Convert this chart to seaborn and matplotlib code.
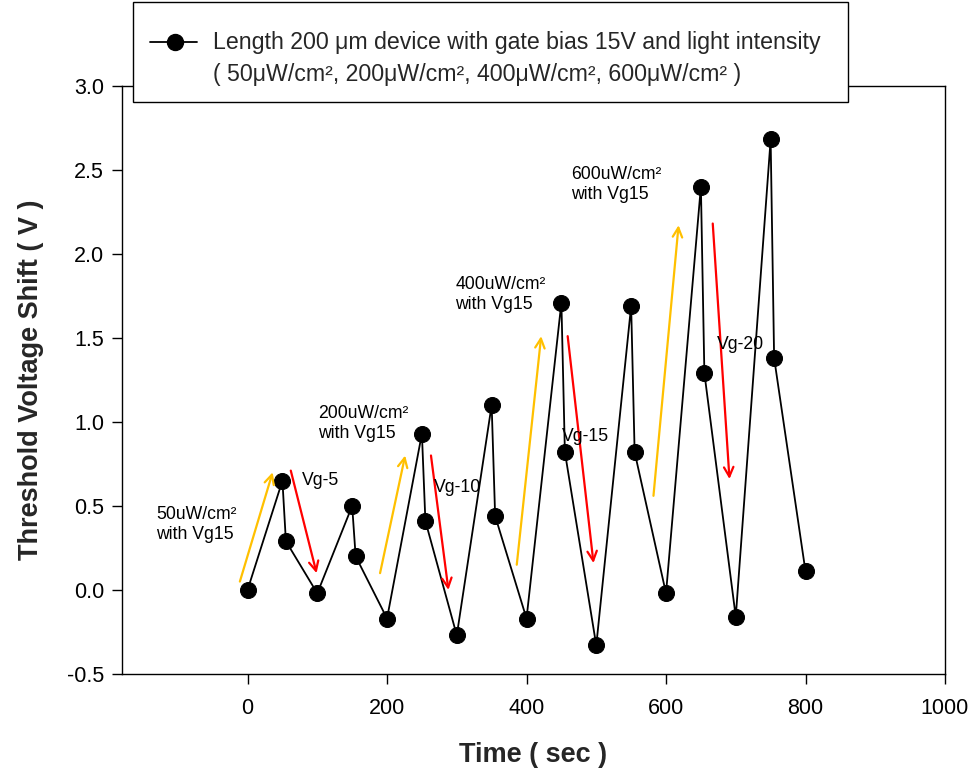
import matplotlib
matplotlib.use("Agg")
import matplotlib.pyplot as plt
from matplotlib.patches import Rectangle
from matplotlib.lines import Line2D
import seaborn as sns
import pandas as pd

# Threshold voltage shift measured over time
time_s = [0, 50, 55, 100, 150, 155, 200, 250, 255, 300, 350, 355, 400,
          450, 455, 500, 550, 555, 600, 650, 655, 700, 750, 755, 800]
shift_v = [0.00, 0.65, 0.29, -0.02, 0.50, 0.20, -0.17, 0.93, 0.41, -0.27,
           1.10, 0.44, -0.17, 1.71, 0.82, -0.33, 1.69, 0.82, -0.02, 2.40,
           1.29, -0.16, 2.68, 1.38, 0.11]

x_ticks = [0, 200, 400, 600, 800, 1000]
y_ticks = [-0.5, 0.0, 0.5, 1.0, 1.5, 2.0, 2.5, 3.0]

# Illumination (up) and recovery (down) arrows: (x0, y0, x1, y1)
light_arrows = [(-11, 0.05, 36, 0.70), (190, 0.10, 226, 0.80),
                (386, 0.15, 421, 1.51), (582, 0.56, 618, 2.17)]
recover_arrows = [(62, 0.71, 99, 0.10), (263, 0.80, 288, 0.00),
                  (459, 1.51, 496, 0.16), (667, 2.18, 691, 0.66)]

# Text notes: (x, y, text)
notes = [(-131, 0.39, "50uW/cm\u00b2\nwith Vg15"),
         (78, 0.65, "Vg-5"),
         (101, 0.99, "200uW/cm\u00b2\nwith Vg15"),
         (267, 0.61, "Vg-10"),
         (298, 1.76, "400uW/cm\u00b2\nwith Vg15"),
         (451, 0.91, "Vg-15"),
         (464, 2.41, "600uW/cm\u00b2\nwith Vg15"),
         (673, 1.46, "Vg-20")]

legend_line1 = "Length 200 \u03bcm device with gate bias 15V and light intensity"
legend_line2 = ("( 50\u03bcW/cm\u00b2, 200\u03bcW/cm\u00b2, 400\u03bcW/cm\u00b2, "
                "600\u03bcW/cm\u00b2 )")

df = pd.DataFrame({"Time": time_s, "Shift": shift_v})

sns.set_style("white")
plt.rcParams["font.family"] = ["Liberation Sans", "DejaVu Sans"]
plt.rcParams["axes.unicode_minus"] = False

fig = plt.figure(figsize=(9.73, 7.76), dpi=100)
ax = fig.add_axes([122 / 973, 1 - 674 / 776, (945 - 122) / 973, (674 - 85.7) / 776])

sns.lineplot(data=df, x="Time", y="Shift", ax=ax, color="black", linewidth=1.3,
             marker="o", markersize=11.5, markeredgecolor="black",
             markerfacecolor="black", estimator=None, sort=False)

ax.set_xlim(-180, 1000)
ax.set_ylim(-0.5, 3.0)
ax.set_xticks(x_ticks)
ax.set_yticks(y_ticks)
ax.set_yticklabels([f"{v:.1f}" for v in y_ticks])
ax.tick_params(axis="both", which="major", direction="out", length=7, width=1,
               labelsize=15.5, color="black", labelcolor="black")
ax.tick_params(axis="x", pad=10)
ax.tick_params(axis="y", pad=6)
ax.tick_params(top=False, right=False, bottom=True, left=True)
for side in ax.spines.values():
    side.set_color("black")
    side.set_linewidth(1.0)

ax.set_xlabel("Time ( sec )", fontsize=19.5, fontweight="bold", labelpad=17)
ax.set_ylabel("Threshold Voltage Shift ( V )", fontsize=19.5, fontweight="bold",
              labelpad=16)

for x0, y0, x1, y1 in light_arrows:
    ax.annotate("", xy=(x1, y1), xytext=(x0, y0),
                arrowprops=dict(arrowstyle="->", color="#FFC000", lw=1.6,
                                mutation_scale=17, shrinkA=0, shrinkB=0))
for x0, y0, x1, y1 in recover_arrows:
    ax.annotate("", xy=(x1, y1), xytext=(x0, y0),
                arrowprops=dict(arrowstyle="->", color="#FF0000", lw=1.6,
                                mutation_scale=17, shrinkA=0, shrinkB=0))

for x, y, s in notes:
    ax.text(x, y, s, fontsize=12.7, ha="left", va="center", color="black",
            linespacing=1.25)

# Legend box drawn in figure space, partly above the plotting area
box = Rectangle((133 / 973, 1 - 102 / 776), (848 - 133) / 973, (102 - 2) / 776,
                transform=fig.transFigure, facecolor="white", edgecolor="black",
                linewidth=1.0, zorder=10)
fig.add_artist(box)
handle = Line2D([150 / 973, 197 / 973], [1 - 42 / 776, 1 - 42 / 776],
                transform=fig.transFigure, color="black", linewidth=1.3,
                zorder=11)
fig.add_artist(handle)
dot = Line2D([175 / 973], [1 - 42 / 776], transform=fig.transFigure,
             marker="o", markersize=11.5, color="black", zorder=12)
fig.add_artist(dot)
fig.text(213 / 973, 1 - 42 / 776, legend_line1, fontsize=16.7, ha="left",
         va="center", zorder=12)
fig.text(213 / 973, 1 - 75 / 776, legend_line2, fontsize=16.7, ha="left",
         va="center", zorder=12)

fig.savefig("out.png", dpi=100)
